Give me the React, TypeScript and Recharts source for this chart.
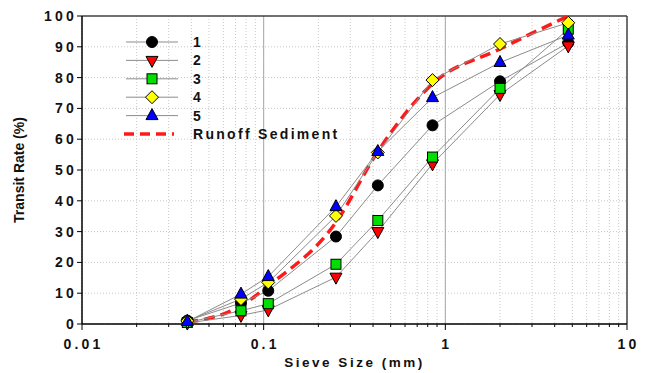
import React from "react";
import {
  CartesianGrid,
  ComposedChart,
  Legend,
  Line,
  ReferenceLine,
  XAxis,
  YAxis,
} from "recharts";

// sieve sizes (mm) and transit rates (%)
const sieveSizes = [0.038, 0.075, 0.106, 0.25, 0.425, 0.85, 2, 4.75];
const sample1 = [1.1, 6.8, 10.8, 28.4, 45.0, 64.5, 78.8, 91.3];
const sample2 = [0.3, 2.8, 4.6, 15.2, 30.0, 52.0, 74.5, 90.3];
const sample3 = [0.5, 4.3, 6.6, 19.4, 33.6, 54.2, 76.5, 95.7];
const sample4 = [1.0, 8.1, 13.5, 35.1, 55.7, 79.2, 90.9, 97.8];
const sample5 = [0.8, 9.7, 15.4, 38.1, 56.0, 73.5, 84.9, 93.8];
const runoff = [0.5, 5.9, 12.4, 33.0, 56.0, 78.0, 89.3, 100];

const seriesNames = ["1", "2", "3", "4", "5"];
const runoffName = "Runoff Sediment";

const majorTicks = [0.01, 0.1, 1, 10];
const minorSteps = [2, 3, 4, 5, 6, 7, 8, 9];
const yTicks = [0, 10, 20, 30, 40, 50, 60, 70, 80, 90, 100];

const xTicks: number[] = [];
majorTicks.forEach((d, i) => {
  xTicks.push(d);
  if (i < majorTicks.length - 1) minorSteps.forEach((m) => xTicks.push(m * d));
});

const rows = sieveSizes.map((size, i) => ({
  size,
  s1: sample1[i],
  s2: sample2[i],
  s3: sample3[i],
  s4: sample4[i],
  s5: sample5[i],
  runoff: runoff[i],
}));

const markers = [
  { key: "s1", shape: "circle", fill: "#000000" },
  { key: "s2", shape: "down", fill: "#ff0000" },
  { key: "s3", shape: "square", fill: "#00e000" },
  { key: "s4", shape: "diamond", fill: "#ffff00" },
  { key: "s5", shape: "up", fill: "#0000ff" },
];

const FONT = "'Liberation Sans', Arial, sans-serif";

function Marker({ cx, cy, shape, fill }: { cx: number; cy: number; shape: string; fill: string }) {
  if (cx == null || cy == null) return null;
  const common = { fill, stroke: "#000", strokeWidth: 1 };
  if (shape === "circle") return <circle cx={cx} cy={cy} r={5.5} {...common} />;
  if (shape === "square") return <rect x={cx - 5} y={cy - 5} width={10} height={10} {...common} />;
  if (shape === "diamond")
    return <polygon points={`${cx},${cy - 6.5} ${cx + 6.5},${cy} ${cx},${cy + 6.5} ${cx - 6.5},${cy}`} {...common} />;
  if (shape === "down")
    return <polygon points={`${cx - 6},${cy - 4} ${cx + 6},${cy - 4} ${cx},${cy + 7}`} {...common} />;
  return <polygon points={`${cx - 6},${cy + 4} ${cx + 6},${cy + 4} ${cx},${cy - 7}`} {...common} />;
}

function XTick(props: any) {
  const { x, y, payload } = props;
  const v = payload.value;
  const major = majorTicks.includes(v);
  const axisY = y - 15;
  return (
    <g>
      <line x1={x} x2={x} y1={axisY} y2={axisY + (major ? 6 : 3)} stroke="#000" strokeWidth={1} />
      {major && (
        <text
          x={x + 1.5}
          y={y}
          dy="0.71em"
          textAnchor="middle"
          fill="#111"
          style={{ fontFamily: FONT, fontSize: 14, fontWeight: "bold", letterSpacing: 3.2 }}
        >
          {String(v)}
        </text>
      )}
    </g>
  );
}

function LegendBox() {
  const rowGap = 18.4;
  const labelStyle = { fontFamily: FONT, fontSize: 14, fontWeight: "bold" as const, letterSpacing: 2.3 };
  return (
    <svg width={240} height={112}>
      {markers.map((m, i) => {
        const y = 10 + i * rowGap;
        return (
          <g key={m.key}>
            <line x1={8} x2={60} y1={y} y2={y} stroke="#8c8c8c" strokeWidth={1} />
            <Marker cx={34} cy={y} shape={m.shape} fill={m.fill} />
            <text x={75} y={y} dy="0.36em" fill="#111" style={labelStyle}>
              {seriesNames[i]}
            </text>
          </g>
        );
      })}
      <line
        x1={6}
        x2={56}
        y1={10 + 5 * rowGap}
        y2={10 + 5 * rowGap}
        stroke="#ff1a1a"
        strokeWidth={3.5}
        strokeDasharray="10 6"
      />
      <text x={75} y={10 + 5 * rowGap} dy="0.36em" fill="#111" style={labelStyle}>
        {runoffName}
      </text>
    </svg>
  );
}

export default function App() {
  return (
    <div style={{ width: 649, height: 373, background: "#fff" }}>
      <style>{`body{margin:0}`}</style>
      <ComposedChart
        width={649}
        height={373}
        data={rows}
        margin={{ top: 16, right: 22, left: 12, bottom: 4 }}
      >
        <CartesianGrid stroke="#c8c8c8" strokeDasharray="1 2" />
        <XAxis
          dataKey="size"
          type="number"
          scale="log"
          domain={[0.01, 10]}
          ticks={xTicks}
          interval={0}
          allowDataOverflow
          height={45}
          tickSize={6}
          tickMargin={9}
          tickLine={false}
          tick={<XTick />}
          axisLine={{ stroke: "#000", strokeWidth: 1.5 }}
          label={{
            value: "Sieve Size (mm)",
            position: "insideBottom",
            offset: 2,
            style: { fontFamily: FONT, fontSize: 13.5, fontWeight: "bold", letterSpacing: 2.5, fill: "#111" },
          }}
        />
        <YAxis
          type="number"
          domain={[0, 100]}
          ticks={yTicks}
          width={70}
          tickSize={5}
          tickMargin={0}
          tickLine={{ stroke: "#000" }}
          axisLine={{ stroke: "#000", strokeWidth: 1.5 }}
          tick={{ fill: "#111", fontFamily: FONT, fontSize: 14, fontWeight: "bold", letterSpacing: 3.2 }}
          label={{
            value: "Transit Rate (%)",
            angle: -90,
            position: "insideLeft",
            offset: 7,
            style: { fontFamily: FONT, fontSize: 14, fontWeight: "bold", fill: "#111", textAnchor: "middle" },
          }}
        />
        <ReferenceLine x={0.1} stroke="#a8a8a8" strokeWidth={1} />
        <ReferenceLine x={1} stroke="#a8a8a8" strokeWidth={1} />
        <ReferenceLine y={100} stroke="#444" strokeWidth={1.5} />
        <ReferenceLine x={10} stroke="#444" strokeWidth={1.5} />
        <Legend
          layout="vertical"
          align="center"
          verticalAlign="middle"
          content={() => <LegendBox />}
          wrapperStyle={{ left: 118, top: 32, width: 240, height: 112 }}
        />
        <Line
          dataKey="runoff"
          name={runoffName}
          type="monotone"
          stroke="#ff1a1a"
          strokeWidth={3.5}
          strokeDasharray="11 6"
          dot={false}
          activeDot={false}
          isAnimationActive={false}
        />
        {markers.map((m, i) => (
          <Line
            key={m.key}
            dataKey={m.key}
            name={seriesNames[i]}
            type="linear"
            stroke="#8c8c8c"
            strokeWidth={1}
            dot={(p: any) => <Marker key={`${m.key}-${p.index}`} cx={p.cx} cy={p.cy} shape={m.shape} fill={m.fill} />}
            activeDot={false}
            isAnimationActive={false}
          />
        ))}
      </ComposedChart>
    </div>
  );
}
